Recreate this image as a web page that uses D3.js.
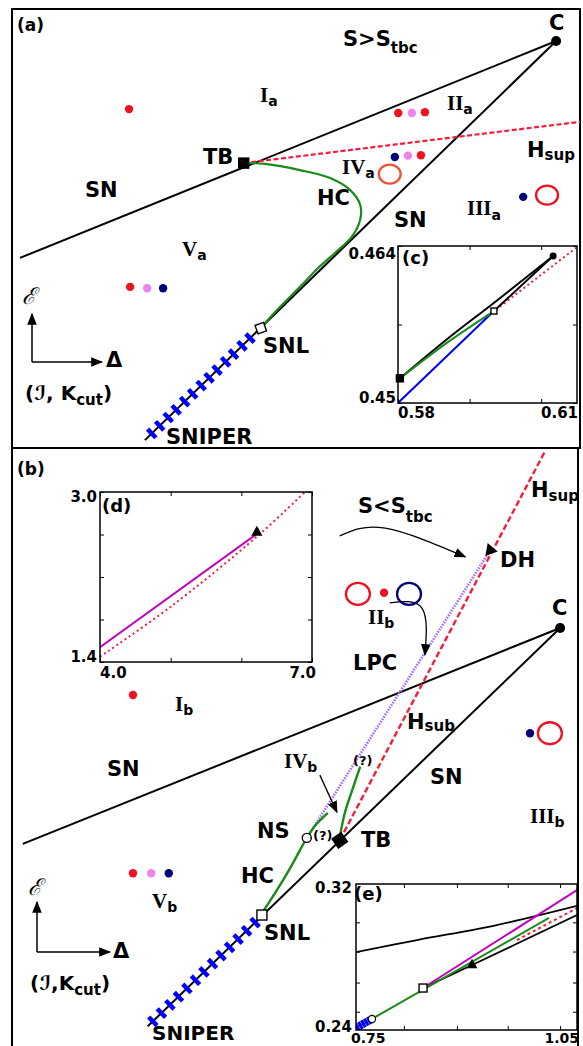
<!DOCTYPE html>
<html>
<head>
<meta charset="utf-8">
<script src="https://cdn.jsdelivr.net/npm/d3@7"></script>
<style>
body{margin:0;background:#fff}
svg{display:block}
</style>
</head>
<body>
<svg width="583" height="1046"></svg>
<script>
// ---- panel (a): schematic (Delta, epsilon) plane, arbitrary units 0..100
var aPointC   = [95.8, 92.7];
var aPointTB  = [40.8, 64.9];
var aPointSNL = [43.8, 27.3];
var aSnUpper  = [[1.4, 43.3], [95.8, 92.7]];
var aSnLower  = [[95.8, 92.7], [23.4, 1.8]];
var aHsup     = [[40.8, 64.9], [100, 74.3]];
var aHC       = [[40.8,64.9],[44.5,64.7],[50.7,63.3],[56.0,61.5],[59.5,58.8],[61.3,55.4],[61.3,52.0],[59.8,48.1],[57.0,44.6],[53.9,41.0],[51.0,37.1],[47.3,32.3],[44.2,28.0]];
var aSniper   = [41.9,40.5,39.0,37.6,36.1,34.7,33.3,31.8,30.4,28.9,27.5,26.0,24.6];
// state dots: r = red, v = violet, n = navy
var aDots     = [[20.6,77.2,'r'],[68.0,76.3,'r'],[70.4,76.3,'v'],[72.7,76.5,'r'],
                 [67.4,66.3,'n'],[69.7,66.6,'v'],[72.0,66.7,'r'],[90.0,57.2,'n'],
                 [20.8,36.7,'r'],[23.8,36.4,'v'],[26.6,36.4,'n']];
var aRings    = [[66.5,62.4,'o'],[94.2,57.6,'r']];

// ---- panel (b)
var bPointC   = [96.5, 69.9];
var bPointTB  = [57.7, 34.4];
var bPointSNL = [44.0, 21.9];
var bPointNS  = [51.9, 34.8];
var bPointDH  = [84.2, 82.9];
var bSnUpper  = [[1.9, 33.8], [96.5, 69.9]];
var bSnLower  = [[96.5, 69.9], [23.9, 3.3]];
var bHopf     = [[93.7, 99.2], [57.7, 34.4]];
var bLPC      = [[51.9, 34.8], [84.2, 82.9]];
var bHC1      = [[57.7,34.9],[58.6,39.0],[59.9,42.8],[61.3,46.7]];
var bHC2      = [[44.0,22.2],[46.8,26.3],[49.3,30.3],[51.9,34.8],[53.5,37.0],[55.6,39.0]];
var bSniper   = [42.8,41.3,39.8,38.3,36.8,35.3,33.8,32.3,30.8,29.3,27.8,26.3,24.8];
var bDots     = [[21.3,58.7,'r'],[65.5,75.8,'r'],[91.2,52.3,'n'],
                 [21.3,28.9,'r'],[24.5,28.9,'v'],[27.6,28.9,'n']];
var bRings    = [[60.9,75.6,'r'],[69.9,75.6,'n'],[94.7,52.3,'r']];
var bArrowS   = [[57.7,85.3],[65.7,86.6],[79.8,81.8]];
var bArrowII  = [[66.5,74.1],[72.2,73.2],[72.7,65.4]];
var bArrowIV  = [[54.2,45.3],[57.2,39.1]];

// ---- inset (c)
var cXTicks  = [0.58, 0.595, 0.61];
var cYTicks  = [0.45, 0.457, 0.464];
var cBlue    = [[0.58,0.45],[0.6001,0.4582]];
var cGreen   = [[0.5804,0.4522],[0.59,0.4553],[0.6001,0.4582]];
var cBlack1  = [[0.5804,0.4522],[0.59,0.4556],[0.6,0.4589],[0.6125,0.4631]];
var cBlack2  = [[0.6001,0.4582],[0.6125,0.4631]];
var cRed     = [[0.598,0.4575],[0.6175,0.4639]];
var cTB      = [0.5804, 0.4522];
var cSNL     = [0.6001, 0.4582];
var cC       = [0.6125, 0.4631];

// ---- inset (d)
var dXTicks  = [4.0, 5.0, 6.0, 7.0];
var dYTicks  = [1.4, 1.8, 2.2, 2.6, 3.0];
var dPurple  = [[4.0,1.54],[6.22,2.605]];
var dRed     = [[4.0,1.45],[5.0,1.92],[6.22,2.58],[6.9,3.0]];
var dTri     = [6.22, 2.62];

// ---- inset (e)
var eXTicks  = [0.815, 0.887, 0.956, 1.027];
var eYTicks  = [0.25, 0.266, 0.283, 0.299];
var eBlackUp = [[0.75,0.2827],[0.833,0.2893],[0.941,0.2975],[1.05,0.308]];
var eBlackLo = [[0.841,0.263],[0.9075,0.2756],[1.05,0.303]];
var eMagenta = [[0.841,0.263],[1.05,0.3167]];
var eGreen   = [[0.75,0.2411],[1.012,0.3014]];
var eRed     = [[0.9685,0.2893],[1.05,0.3068]];
var eSniper  = [0.752,0.756,0.760,0.764,0.768];
var eNS      = [0.7717, 0.246];
var eSNL     = [0.841, 0.263];
var eTri     = [0.9075, 0.2756];

var colors = {r:'#ee1122', v:'#ee82ee', n:'#000078', o:'#f0503c'};
var GREEN = '#1b8a1b', RED = '#f21e3c', BLUE = '#0000ff';

var svg = d3.select('svg');
svg.append('rect').attr('width',583).attr('height',1046).attr('fill','#fff');
var defs = svg.append('defs');
defs.append('marker').attr('id','arr').attr('viewBox','0 0 10 8')
	.attr('refX',9).attr('refY',4).attr('markerWidth',12).attr('markerHeight',10)
	.attr('markerUnits','userSpaceOnUse').attr('orient','auto')
	.append('path').attr('d','M0,0L10,4L0,8Z').attr('fill','#000');

//scales of the two schematic panels
var ax = d3.scaleLinear().domain([0,100]).range([12,580]);
var ay = d3.scaleLinear().domain([0,100]).range([448,9]);
var bx = d3.scaleLinear().domain([0,100]).range([12,580]);
var by = d3.scaleLinear().domain([0,100]).range([1046,448]);

function path(g, sx, sy, pts, curve){
	return g.append('path')
		.attr('d', d3.line().x(function(d){return sx(d[0]);}).y(function(d){return sy(d[1]);}).curve(curve || d3.curveLinear)(pts))
		.attr('fill','none');
}

function sniper(g, sx, sy, line, us, len, w){
	var p0 = line[0], p1 = line[1];
	var dx = sx(p1[0])-sx(p0[0]), dy = sy(p1[1])-sy(p0[1]), L = Math.hypot(dx,dy);
	var nx = -dy/L, ny = dx/L;
	us.forEach(function(u){
		var v = p0[1] + (u-p0[0])*(p1[1]-p0[1])/(p1[0]-p0[0]);
		var x = sx(u), y = sy(v);
		g.append('line')
			.attr('x1', x-nx*len).attr('y1', y-ny*len)
			.attr('x2', x+nx*len).attr('y2', y+ny*len)
			.attr('stroke', BLUE).attr('stroke-width', w);
	});
}

function label(g, x, y, main, sub, o){
	o = o || {};
	var t = g.append('text').attr('x',x).attr('y',y)
		.attr('font-weight','bold').attr('fill','#000');
	t.append('tspan').text(main)
		.attr('font-family', o.serif ? 'Liberation Serif' : 'DejaVu Sans')
		.attr('font-size', o.size || 21);
	if(sub){
		t.append('tspan').text(sub)
			.attr('font-family','DejaVu Sans')
			.attr('font-size', o.sub || 14)
			.attr('dy', o.dy || 6);
	}
	return t;
}

function squareMark(g, x, y, s, fill, rot){
	g.append('rect').attr('x', x-s/2).attr('y', y-s/2).attr('width', s).attr('height', s)
		.attr('fill', fill).attr('stroke','#000').attr('stroke-width', 1.4)
		.attr('transform', 'rotate(' + (rot||0) + ',' + x + ',' + y + ')');
}

function triMark(g, x, y, s, rot){
	g.append('path').attr('d', d3.symbol(d3.symbolTriangle, s)())
		.attr('transform','translate(' + x + ',' + y + ') rotate(' + (rot||0) + ')')
		.attr('fill','#000');
}

function axisLegend(g, x0, y0, up, right, ex, dl, jl){
	g.append('line').attr('x1',x0).attr('y1',y0).attr('x2',x0).attr('y2',up)
		.attr('stroke','#000').attr('stroke-width',1.5).attr('marker-end','url(#arr)');
	g.append('line').attr('x1',x0).attr('y1',y0).attr('x2',right).attr('y2',y0)
		.attr('stroke','#000').attr('stroke-width',1.5).attr('marker-end','url(#arr)');
	g.append('text').attr('x',ex[0]).attr('y',ex[1]).attr('font-family','DejaVu Serif')
		.attr('font-style','italic').attr('font-size',23).text('\u2130');
	label(g, dl[0], dl[1], '\u0394');
	var t = g.append('text').attr('x',jl[0]).attr('y',jl[1]).attr('font-family','DejaVu Sans')
		.attr('font-weight','bold').attr('font-size',20);
	t.append('tspan').text(jl[2] ? '(\u2110, K' : '(\u2110,K');
	t.append('tspan').text('cut').attr('font-size',15).attr('dy',5);
	t.append('tspan').text(')').attr('dy',-5);
}

// ================= panel (a) =================
var ga = svg.append('g');
ga.append('rect').attr('x',12).attr('y',9).attr('width',568).attr('height',439)
	.attr('fill','none').attr('stroke','#000').attr('stroke-width',2);

path(ga, ax, ay, aSnUpper).attr('stroke','#000').attr('stroke-width',2);
path(ga, ax, ay, aSnLower).attr('stroke','#000').attr('stroke-width',2);
path(ga, ax, ay, aHsup).attr('stroke',RED).attr('stroke-width',2.2).attr('stroke-dasharray','5,2.5');
path(ga, ax, ay, aHC, d3.curveCatmullRom).attr('stroke',GREEN).attr('stroke-width',2.2);
sniper(ga, ax, ay, aSnLower, aSniper, 6, 4.5);

ga.append('circle').attr('cx',ax(aPointC[0])).attr('cy',ay(aPointC[1])).attr('r',5).attr('fill','#000');
squareMark(ga, ax(aPointTB[0]), ay(aPointTB[1]), 10, '#000', 0);
squareMark(ga, ax(aPointSNL[0]), ay(aPointSNL[1]), 9, '#fff', -20);

ga.selectAll('circle.dot').data(aDots).enter().append('circle').attr('class','dot')
	.attr('cx', function(d){return ax(d[0]);}).attr('cy', function(d){return ay(d[1]);})
	.attr('r',4.2).attr('fill', function(d){return colors[d[2]];});
ga.selectAll('ellipse').data(aRings).enter().append('ellipse')
	.attr('cx', function(d){return ax(d[0]);}).attr('cy', function(d){return ay(d[1]);})
	.attr('rx',11).attr('ry',9.5).attr('fill','none').attr('stroke-width',2.3)
	.attr('stroke', function(d){return colors[d[2]];});

label(ga, 17, 31, '(a)', null, {size:17});
label(ga, 549, 30, 'C');
label(ga, 343, 46, 'S>S', 'tbc', {dy:7, sub:15});
label(ga, 260, 102, 'I', 'a', {serif:true, dy:4});
label(ga, 447, 110, 'II', 'a', {serif:true, dy:4});
label(ga, 203, 164, 'TB');
label(ga, 85, 197, 'SN');
label(ga, 527, 157, 'H', 'sup', {dy:3, sub:15});
label(ga, 342, 174, 'IV', 'a', {serif:true, dy:4});
label(ga, 317, 205, 'HC');
label(ga, 394, 227, 'SN');
label(ga, 467, 215, 'III', 'a', {serif:true, dy:5});
label(ga, 182, 256, 'V', 'a', {serif:true, dy:4});
label(ga, 263, 353, 'SNL');
label(ga, 166, 444, 'SNIPER');
axisLegend(ga, 32, 362, 314, 102, [22,304], [106,367], [25,400,true]);

// ================= panel (b) =================
var gb = svg.append('g');
gb.append('rect').attr('x',12).attr('y',448).attr('width',566).attr('height',610)
	.attr('fill','none').attr('stroke','#000').attr('stroke-width',2);

path(gb, bx, by, bSnUpper).attr('stroke','#000').attr('stroke-width',2);
path(gb, bx, by, bSnLower).attr('stroke','#000').attr('stroke-width',2);
path(gb, bx, by, bLPC).attr('stroke','#a070ff').attr('stroke-width',2.6).attr('stroke-dasharray','1.6,1.2');
path(gb, bx, by, bHopf).attr('stroke',RED).attr('stroke-width',2.4).attr('stroke-dasharray','6,3');
path(gb, bx, by, bHC1, d3.curveCatmullRom).attr('stroke',GREEN).attr('stroke-width',2.4);
path(gb, bx, by, bHC2, d3.curveCatmullRom).attr('stroke',GREEN).attr('stroke-width',2.4);
sniper(gb, bx, by, bSnLower, bSniper, 6, 4.5);

path(gb, bx, by, bArrowS, d3.curveNatural).attr('stroke','#000').attr('stroke-width',1.3).attr('marker-end','url(#arr)');
path(gb, bx, by, bArrowII, d3.curveNatural).attr('stroke','#000').attr('stroke-width',1.3).attr('marker-end','url(#arr)');
path(gb, bx, by, bArrowIV).attr('stroke','#000').attr('stroke-width',1.3).attr('marker-end','url(#arr)');

gb.append('circle').attr('cx',bx(bPointC[0])).attr('cy',by(bPointC[1])).attr('r',5).attr('fill','#000');
squareMark(gb, bx(bPointTB[0]), by(bPointTB[1]), 11, '#000', -35);
squareMark(gb, bx(bPointSNL[0]), by(bPointSNL[1]), 10, '#fff', 0);
gb.append('circle').attr('cx',bx(bPointNS[0])).attr('cy',by(bPointNS[1])).attr('r',4.5)
	.attr('fill','#fff').attr('stroke','#000').attr('stroke-width',1.4);
triMark(gb, bx(bPointDH[0]), by(bPointDH[1]), 75, 100);

gb.selectAll('circle.dot').data(bDots).enter().append('circle').attr('class','dot')
	.attr('cx', function(d){return bx(d[0]);}).attr('cy', function(d){return by(d[1]);})
	.attr('r',4.2).attr('fill', function(d){return colors[d[2]];});
gb.selectAll('ellipse').data(bRings).enter().append('ellipse')
	.attr('cx', function(d){return bx(d[0]);}).attr('cy', function(d){return by(d[1]);})
	.attr('rx',12).attr('ry',11).attr('fill','none').attr('stroke-width',2.3)
	.attr('stroke', function(d){return colors[d[2]];});

label(gb, 17, 475, '(b)', null, {size:17});
label(gb, 358, 513, 'S<S', 'tbc', {dy:9, sub:15});
label(gb, 531, 497, 'H', 'sup', {dy:4, sub:15});
label(gb, 500, 567, 'DH');
label(gb, 552, 615, 'C');
label(gb, 368, 624, 'II', 'b', {serif:true, dy:4});
label(gb, 353, 670, 'LPC');
label(gb, 175, 711, 'I', 'b', {serif:true, dy:4});
label(gb, 107, 776, 'SN');
label(gb, 407, 729, 'H', 'sub', {dy:2, sub:15});
label(gb, 430, 784, 'SN');
label(gb, 284, 768, 'IV', 'b', {serif:true, dy:4});
label(gb, 353, 765, '(?)', null, {size:13});
label(gb, 313, 840, '(?)', null, {size:13});
label(gb, 257, 838, 'NS');
label(gb, 361, 847, 'TB');
label(gb, 530, 823, 'III', 'b', {serif:true, dy:4});
label(gb, 241, 883, 'HC');
label(gb, 152, 908, 'V', 'b', {serif:true, dy:4});
label(gb, 264, 940, 'SNL');
label(gb, 152, 1040, 'SNIPER', null, {size:20});
axisLegend(gb, 37, 952, 902, 110, [28,895], [113,958], [30,990,false]);

// ================= insets =================
function inset(id, x0, x1, y0, y1, xd, yd, xt, yt){
	var g = svg.append('g');
	var sx = d3.scaleLinear().domain(xd).range([x0,x1]);
	var sy = d3.scaleLinear().domain(yd).range([y1,y0]);
	g.append('rect').attr('x',x0).attr('y',y0).attr('width',x1-x0).attr('height',y1-y0).attr('fill','#fff');
	defs.append('clipPath').attr('id',id).append('rect')
		.attr('x',x0).attr('y',y0).attr('width',x1-x0).attr('height',y1-y0);
	var inner = g.append('g').attr('clip-path','url(#' + id + ')');
	var frame = g.append('g');
	frame.append('rect').attr('x',x0).attr('y',y0).attr('width',x1-x0).attr('height',y1-y0)
		.attr('fill','none').attr('stroke','#000').attr('stroke-width',1.5);
	// inward ticks on all four sides
	frame.append('g').attr('transform','translate(0,' + y1 + ')')
		.call(d3.axisTop(sx).tickValues(xt).tickSize(4).tickFormat(''));
	frame.append('g').attr('transform','translate(0,' + y0 + ')')
		.call(d3.axisBottom(sx).tickValues(xt).tickSize(4).tickFormat(''));
	frame.append('g').attr('transform','translate(' + x0 + ',0)')
		.call(d3.axisRight(sy).tickValues(yt).tickSize(4).tickFormat(''));
	frame.append('g').attr('transform','translate(' + x1 + ',0)')
		.call(d3.axisLeft(sy).tickValues(yt).tickSize(4).tickFormat(''));
	frame.selectAll('.domain').remove();
	return {g:g, inner:inner, frame:frame, sx:sx, sy:sy};
}

function tickText(g, x, y, s, anchor, size){
	g.append('text').attr('x',x).attr('y',y).attr('text-anchor',anchor||'start')
		.attr('font-family','DejaVu Sans').attr('font-weight','bold').attr('font-size',size||15).text(s);
}

// (c)
var c = inset('clipc', 398, 577, 246, 403, [0.58,0.6175], [0.45,0.464], cXTicks, cYTicks);
path(c.inner, c.sx, c.sy, cRed).attr('stroke',RED).attr('stroke-width',2).attr('stroke-dasharray','2,3');
path(c.inner, c.sx, c.sy, cBlue).attr('stroke',BLUE).attr('stroke-width',2);
path(c.inner, c.sx, c.sy, cBlack1, d3.curveCatmullRom).attr('stroke','#000').attr('stroke-width',2);
path(c.inner, c.sx, c.sy, cBlack2).attr('stroke','#000').attr('stroke-width',2);
path(c.inner, c.sx, c.sy, cGreen, d3.curveCatmullRom).attr('stroke',GREEN).attr('stroke-width',2);
squareMark(c.frame, c.sx(cTB[0]), c.sy(cTB[1]), 7, '#000', 0);
squareMark(c.frame, c.sx(cSNL[0]), c.sy(cSNL[1]), 6, '#fff', 0);
c.frame.append('circle').attr('cx',c.sx(cC[0])).attr('cy',c.sy(cC[1])).attr('r',3.5).attr('fill','#000');
label(c.frame, 402, 264, '(c)', null, {size:18});
tickText(svg, 396, 259, '0.464', 'end');
tickText(svg, 396, 403, '0.45', 'end');
tickText(svg, 398, 418, '0.58');
tickText(svg, 541, 418, '0.61');

// (d)
var d = inset('clipd', 100, 312, 492, 662, [4.0,7.0], [1.4,3.0], dXTicks, dYTicks);
path(d.inner, d.sx, d.sy, dRed, d3.curveCatmullRom).attr('stroke',RED).attr('stroke-width',2).attr('stroke-dasharray','2,3');
path(d.inner, d.sx, d.sy, dPurple).attr('stroke','#c000c0').attr('stroke-width',2);
triMark(d.frame, d.sx(dTri[0]), d.sy(dTri[1]), 55, 0);
label(d.frame, 102, 512, '(d)', null, {size:18});
tickText(svg, 97, 502, '3.0', 'end');
tickText(svg, 97, 662, '1.4', 'end');
tickText(svg, 100, 678, '4.0');
tickText(svg, 316, 678, '7.0', 'end');

// (e)
var e = inset('clipe', 356, 577, 884, 1030, [0.75,1.05], [0.24,0.32], eXTicks, eYTicks);
path(e.inner, e.sx, e.sy, eBlackUp, d3.curveCatmullRom).attr('stroke','#000').attr('stroke-width',1.8);
path(e.inner, e.sx, e.sy, eBlackLo, d3.curveCatmullRom).attr('stroke','#000').attr('stroke-width',1.8);
path(e.inner, e.sx, e.sy, eRed).attr('stroke',RED).attr('stroke-width',2).attr('stroke-dasharray','3,3');
path(e.inner, e.sx, e.sy, eMagenta).attr('stroke','#c000c0').attr('stroke-width',2);
path(e.inner, e.sx, e.sy, eGreen).attr('stroke',GREEN).attr('stroke-width',2);
sniper(e.inner, e.sx, e.sy, eGreen, eSniper, 4, 3);
e.frame.append('circle').attr('cx',e.sx(eNS[0])).attr('cy',e.sy(eNS[1])).attr('r',3.6)
	.attr('fill','#fff').attr('stroke','#000').attr('stroke-width',1.2);
squareMark(e.frame, e.sx(eSNL[0]), e.sy(eSNL[1]), 8, '#fff', 0);
triMark(e.frame, e.sx(eTri[0]), e.sy(eTri[1]), 50, 0);
label(e.frame, 354, 900, '(e)', null, {size:18});
tickText(svg, 352, 893, '0.32', 'end');
tickText(svg, 352, 1032, '0.24', 'end');
tickText(svg, 351, 1043, '0.75', 'start', 14);
tickText(svg, 579, 1043, '1.05', 'end', 14);
</script>
</body>
</html>
